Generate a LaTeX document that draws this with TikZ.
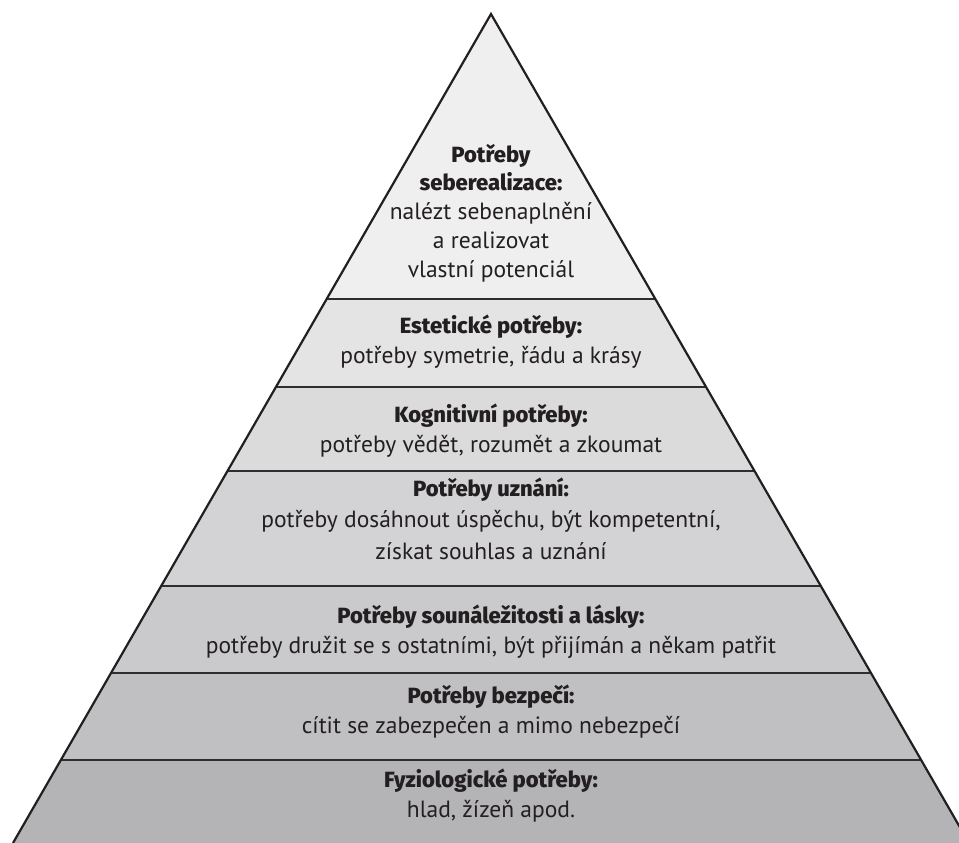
\documentclass[tikz,border=0pt]{standalone}
\usepackage{fontspec}
\setmainfont{PT Sans}
\newfontfamily\titlefont{Fira Sans ExtraBold}
\usepackage{tikz}
\usetikzlibrary{calc}

\definecolor{inkblack}{HTML}{231F20}
\definecolor{divgray}{HTML}{2E2E30}
\definecolor{layA}{HTML}{EFEFF0}
\definecolor{layB}{HTML}{E4E4E5}
\definecolor{layC}{HTML}{DBDBDC}
\definecolor{layD}{HTML}{D3D3D5}
\definecolor{layE}{HTML}{CACACC}
\definecolor{layF}{HTML}{C0C0C2}
\definecolor{layG}{HTML}{B4B4B7}

\newcommand{\lvtitle}[1]{{\titlefont\fontsize{22}{29.5}\selectfont #1}}

\tikzset{
  layertext/.style={align=center, inner sep=0pt, anchor=base, text=inkblack,
    font=\fontsize{23.5}{29.5}\selectfont},
  divider/.style={line width=2.2pt, draw=divgray},
}

\begin{document}
\begin{tikzpicture}[x=1pt,y=-1pt]
\useasboundingbox (0,0) rectangle (959,843);
%\draw[help lines,step=50](0,0)grid(959,843);
\coordinate (apex) at (491,14);
\coordinate (bl) at (13,843);
\coordinate (br) at (969,843);

% layers
\begin{scope}
\clip (apex)--(bl)--(br)--cycle;
\fill[layA] (0,0) rectangle (959,299);
\fill[layB] (0,299) rectangle (959,387);
\fill[layC] (0,387) rectangle (959,471);
\fill[layD] (0,471) rectangle (959,586);
\fill[layE] (0,586) rectangle (959,673);
\fill[layF] (0,673) rectangle (959,760);
\fill[layG] (0,760) rectangle (959,843);
\draw[divider] (0,299)--(959,299);
\draw[divider] (0,387)--(959,387);
\draw[divider] (0,471)--(959,471);
\draw[divider] (0,586)--(959,586);
\draw[divider] (0,673)--(959,673);
\draw[divider] (0,760)--(959,760);
\end{scope}
\draw[line width=2.2pt, draw=inkblack] (bl)--(apex)--(br);

% texts (anchor = baseline of last line)
\node[layertext, font=\fontsize{23.5}{28.75}\selectfont] (selfact) at (491,277)
  {\lvtitle{Potřeby}\\\lvtitle{seberealizace:}\\nalézt sebenaplnění\\a realizovat\\vlastní potenciál};
\node[layertext] (aesthetic) at (491,363)
  {\lvtitle{Estetické potřeby:}\\potřeby symetrie, řádu a krásy};
\node[layertext] (cognitive) at (491,452)
  {\lvtitle{Kognitivní potřeby:}\\potřeby vědět, rozumět a zkoumat};
\node[layertext, font=\fontsize{23.5}{31.5}\selectfont] (esteem) at (491,559)
  {\lvtitle{Potřeby uznání:}\\potřeby dosáhnout úspěchu, být kompetentní,\\získat souhlas a uznání};
\node[layertext] (belonging) at (491,653)
  {\lvtitle{Potřeby sounáležitosti a lásky:}\\potřeby družit se s ostatními, být přijímán a někam patřit};
\node[layertext] (safety) at (491,733)
  {\lvtitle{Potřeby bezpečí:}\\cítit se zabezpečen a mimo nebezpečí};
\node[layertext] (physio) at (491,817)
  {\lvtitle{Fyziologické potřeby:}\\hlad, žízeň apod.};
\end{tikzpicture}
\end{document}
